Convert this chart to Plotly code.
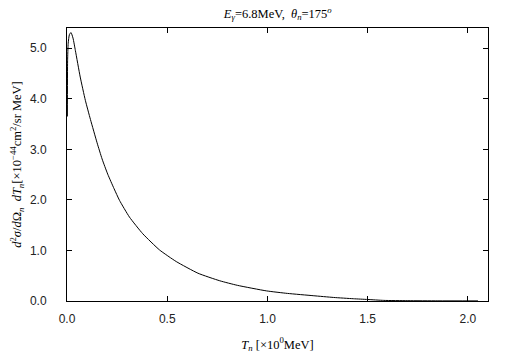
import plotly.graph_objects as go

T_n = [0.002, 0.003, 0.006, 0.012, 0.02, 0.03, 0.042, 0.066, 0.0915, 0.117, 0.15, 0.175,
       0.203, 0.235, 0.262, 0.3115, 0.378, 0.4615, 0.545, 0.653, 0.762, 0.85, 0.995,
       1.1, 1.228, 1.33, 1.428, 1.5, 1.58, 1.7, 1.85, 2.05]
cross = [3.65, 4.75, 5.1, 5.27, 5.31, 5.2, 4.95, 4.43, 3.97, 3.59, 3.13, 2.81,
         2.51, 2.22, 1.99, 1.66, 1.33, 1.01, 0.78, 0.55, 0.40, 0.31, 0.20,
         0.15, 0.105, 0.07, 0.045, 0.03, 0.012, 0.006, 0.003, 0.002]

x_ticks = [0.0, 0.5, 1.0, 1.5, 2.0]
y_ticks = [0.0, 1.0, 2.0, 3.0, 4.0, 5.0]

fig = go.Figure()
fig.add_trace(go.Scatter(x=T_n, y=cross, mode="lines",
                         line=dict(color="black", width=1, shape="spline", smoothing=0.5),
                         showlegend=False))

serif = "Liberation Serif, Times New Roman, serif"
sans = "Liberation Sans, Arial, sans-serif"

fig.update_layout(
    width=505, height=361,
    margin=dict(l=67, r=17, t=28, b=56),
    paper_bgcolor="white", plot_bgcolor="white",
    title=dict(text="<i>E</i><sub><i>γ</i></sub>=6.8MeV,  <i>θ</i><sub><i>n</i></sub>=175<sup><i>o</i></sup>",
               x=0.55, xanchor="center", y=0.975, yanchor="top",
               font=dict(family=serif, size=12.5, color="black")),
    xaxis=dict(range=[0, 2.1], tickvals=x_ticks, ticktext=[f"{v:.1f}" for v in x_ticks],
               ticks="inside", ticklen=5, tickcolor="black", mirror="ticks",
               showline=True, linecolor="black", linewidth=1, showgrid=False, zeroline=False,
               ticklabelstandoff=7,
               tickfont=dict(family=sans, size=12, color="#222"),
               title=dict(text="<i>T</i><sub><i>n</i></sub> [×10<sup>0</sup>MeV]",
                          font=dict(family=serif, size=12.5, color="black"), standoff=14)),
    yaxis=dict(range=[0, 5.4], tickvals=y_ticks, ticktext=[f"{v:.1f}" for v in y_ticks],
               ticks="inside", ticklen=5, tickcolor="black", mirror="ticks",
               showline=True, linecolor="black", linewidth=1, showgrid=False, zeroline=False,
               ticklabelstandoff=17,
               tickfont=dict(family=sans, size=12, color="#222"),
               title=dict(text="<i>d</i><sup>2</sup><i>σ</i>/<i>d</i>Ω<sub><i>n</i></sub>  <i>dT</i><sub><i>n</i></sub>[×10<sup>−44</sup>cm<sup>2</sup>/sr MeV]",
                          font=dict(family=serif, size=12.5, color="black"), standoff=5)),
)

fig.write_html("out.html", config={"displayModeBar": False},
               post_script="document.body.style.margin='0px';")
